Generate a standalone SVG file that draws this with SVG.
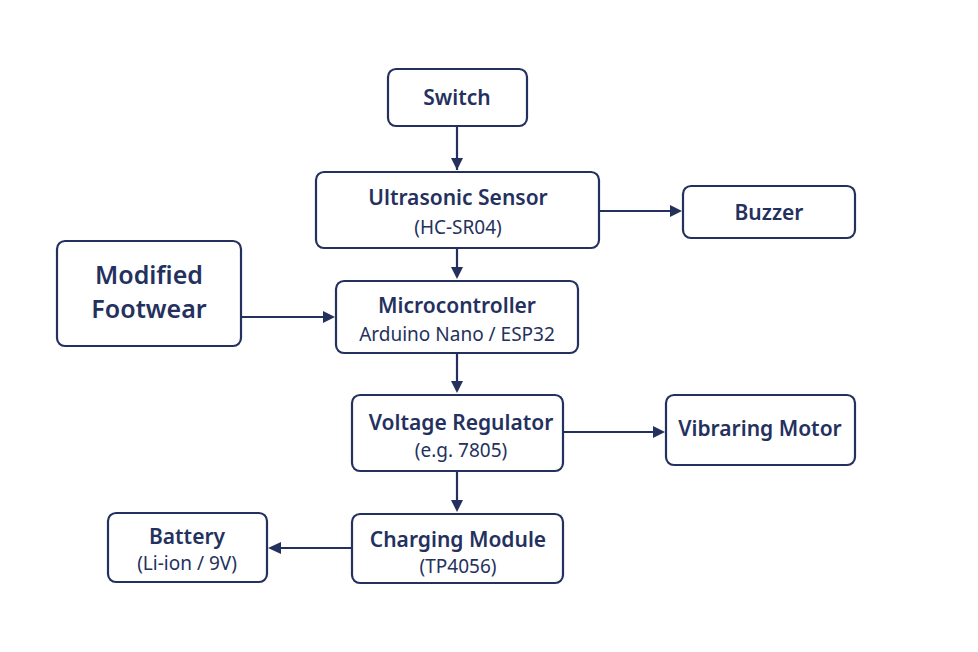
<svg xmlns="http://www.w3.org/2000/svg" width="978" height="652" viewBox="0 0 978 652">
<style>
rect{fill:#fff;stroke:#24315e;stroke-width:2.2}
text{font-family:"Noto Sans","Open Sans",sans-serif;fill:#24315e;text-anchor:middle}
.t{font-size:21px;font-weight:600}
.s{font-size:19px}
.l{font-size:25px;font-weight:600}
line{stroke:#24315e;stroke-width:2.2;marker-end:url(#a)}
</style>
<defs><marker id="a" viewBox="0 0 10 10" refX="9" refY="5" markerWidth="6" markerHeight="6" orient="auto" markerUnits="userSpaceOnUse" ><path d="M0,0L10,5L0,10z" fill="#24315e" transform="scale(1)"/></marker></defs>
<rect width="978" height="652" style="fill:#fff;stroke:none"/>
<g id="connectors">
<line x1="457" y1="126" x2="457" y2="170" style="marker-end:none"/><path d="M451,158L457,170L463,158z" fill="#24315e"/>
<path d="M451,267L457,279L463,267z" fill="#24315e"/><path d="M457,248V268" stroke="#24315e" stroke-width="2.2"/>
<path d="M451,381L457,393L463,381z" fill="#24315e"/><path d="M457,353V382" stroke="#24315e" stroke-width="2.2"/>
<path d="M451,500L457,512L463,500z" fill="#24315e"/><path d="M457,471V501" stroke="#24315e" stroke-width="2.2"/>
<path d="M599,211H672" stroke="#24315e" stroke-width="2.2"/><path d="M670,205L682,211L670,217z" fill="#24315e"/>
<path d="M241,317H325" stroke="#24315e" stroke-width="2.2"/><path d="M323,311L335,317L323,323z" fill="#24315e"/>
<path d="M563,432H655" stroke="#24315e" stroke-width="2.2"/><path d="M653,426L665,432L653,438z" fill="#24315e"/>
<path d="M352,548H279" stroke="#24315e" stroke-width="2.2"/><path d="M281,542L268,548L281,554z" fill="#24315e"/>
</g>
<g id="switch"><rect x="388" y="69" width="139" height="57" rx="8"/><text class="t" x="457" y="105">Switch</text></g>
<g id="ultrasonic"><rect x="316" y="172" width="283" height="76" rx="8"/><text class="t" x="458" y="205">Ultrasonic Sensor</text><text class="s" x="458" y="234">(HC-SR04)</text></g>
<g id="buzzer"><rect x="683" y="186" width="172" height="52" rx="8"/><text class="t" x="769" y="220">Buzzer</text></g>
<g id="footwear"><rect x="57" y="241" width="184" height="105" rx="8"/><text class="l" x="149" y="284">Modified</text><text class="l" x="149" y="318">Footwear</text></g>
<g id="micro"><rect x="336" y="281" width="242" height="72" rx="8"/><text class="t" x="457" y="313">Microcontroller</text><text class="s" x="457" y="341">Arduino Nano / ESP32</text></g>
<g id="regulator"><rect x="352" y="395" width="211" height="76" rx="8"/><text class="t" x="461" y="430">Voltage Regulator</text><text class="s" x="461" y="457">(e.g. 7805)</text></g>
<g id="motor"><rect x="666" y="395" width="189" height="70" rx="8"/><text class="t" x="760" y="436">Vibraring Motor</text></g>
<g id="charging"><rect x="352" y="514" width="211" height="69" rx="8"/><text class="t" x="458" y="547">Charging Module</text><text class="s" x="458" y="573">(TP4056)</text></g>
<g id="battery"><rect x="108" y="513" width="159" height="69" rx="8"/><text class="t" x="187" y="544">Battery</text><text class="s" x="187" y="570">(Li-ion / 9V)</text></g>
</svg>
